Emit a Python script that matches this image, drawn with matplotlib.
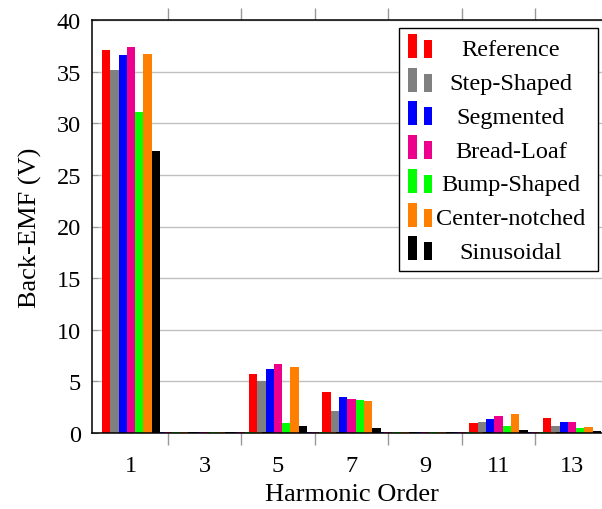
import matplotlib
matplotlib.use("Agg")
import matplotlib.pyplot as plt
from matplotlib.patches import Rectangle
from matplotlib.ticker import FixedLocator

plt.rcParams["font.family"] = "Liberation Serif"
plt.rcParams["font.size"] = 17.5

# harmonic orders 1..13, back-EMF amplitude per rotor shape (V)
harmonics = list(range(1, 14))
reference = [37.1, 0.1, 0.1, 0.1, 5.68, 0.1, 3.94, 0.1, 0.1, 0.1, 0.94, 0.1, 1.45]
step_shaped = [35.2, 0.1, 0.1, 0.1, 5.06, 0.1, 2.13, 0.1, 0.1, 0.1, 1.06, 0.1, 0.70]
segmented = [36.6, 0.1, 0.1, 0.1, 6.20, 0.1, 3.48, 0.1, 0.1, 0.1, 1.36, 0.1, 1.06]
bread_loaf = [37.4, 0.12, 0.12, 0.12, 6.68, 0.12, 3.29, 0.12, 0.12, 0.12, 1.68, 0.12, 1.06]
bump_shaped = [31.1, 0.12, 0.12, 0.12, 0.94, 0.12, 3.16, 0.12, 0.12, 0.12, 0.71, 0.12, 0.48]
center_notched = [36.7, 0.12, 0.12, 0.12, 6.39, 0.12, 3.10, 0.12, 0.12, 0.12, 1.84, 0.12, 0.55]
sinusoidal = [27.3, 0.1, 0.1, 0.1, 0.71, 0.1, 0.45, 0.1, 0.1, 0.1, 0.29, 0.1, 0.19]

names = ["Reference", "Step-Shaped", "Segmented", "Bread-Loaf",
         "Bump-Shaped", "Center-notched", "Sinusoidal"]
series = [reference, step_shaped, segmented, bread_loaf,
          bump_shaped, center_notched, sinusoidal]
colors = ["#ff0000", "#808080", "#0000ff", "#ec008c",
          "#00ff00", "#ff8000", "#000000"]

W, H = 602, 510
fig = plt.figure(figsize=(W / 100, H / 100), dpi=100)


def fx(x):
    return x / W


def fy(y):
    return 1 - y / H


ax = fig.add_axes([fx(92), fy(434), fx(611) - fx(92), fy(21) - fy(434)])

bar_w = 0.226
for i, (vals, col) in enumerate(zip(series, colors)):
    xs = [h + (i - 3) * bar_w for h in harmonics]
    ax.bar(xs, vals, width=bar_w, color=col, linewidth=0, zorder=2)

ax.set_xlim(-0.06, 14.06)
ax.set_ylim(0, 40)

# labels on odd harmonics, tick marks between them
ax.xaxis.set_major_locator(FixedLocator([1, 3, 5, 7, 9, 11, 13]))
ax.xaxis.set_minor_locator(FixedLocator([2, 4, 6, 8, 10, 12]))
ax.tick_params(axis="x", which="major", length=0, pad=16)
ax.tick_params(axis="x", which="minor", length=8.6, width=1.0,
               color="#999999", direction="out", top=True)
ax.set_yticks(range(0, 41, 5))
ax.tick_params(axis="y", length=4, direction="in", color="#999999", pad=8)

ax.grid(axis="y", color="#c0c0c0", linewidth=1.0, zorder=0)
ax.set_axisbelow(True)
for s in ["left", "top", "bottom"]:
    ax.spines[s].set_linewidth(1.1)
ax.spines["right"].set_visible(False)

ax.set_ylabel("Back-EMF (V)", fontsize=19, labelpad=10)
ax.set_xlabel("Harmonic Order", fontsize=19, labelpad=5)

# legend box drawn by hand: two-bar icons and centred entries
fig.patches.append(Rectangle((fx(399), fy(272)), fx(598) - fx(399), fy(29) - fy(272),
                             transform=fig.transFigure, facecolor="white",
                             edgecolor="black", linewidth=1.0, zorder=5))
for k, (name, col) in enumerate(zip(names, colors)):
    yc = 51 + 33.7 * k
    fig.patches.append(Rectangle((fx(408), fy(yc + 8)), fx(8.5), fy(yc - 16) - fy(yc + 8),
                                 transform=fig.transFigure, facecolor=col,
                                 linewidth=0, zorder=6))
    fig.patches.append(Rectangle((fx(424), fy(yc + 8)), fx(8.5), fy(yc - 10) - fy(yc + 8),
                                 transform=fig.transFigure, facecolor=col,
                                 linewidth=0, zorder=6))
    fig.text(fx(511), fy(yc), name, ha="center", va="center", zorder=7)

fig.savefig("out.png", dpi=100)
